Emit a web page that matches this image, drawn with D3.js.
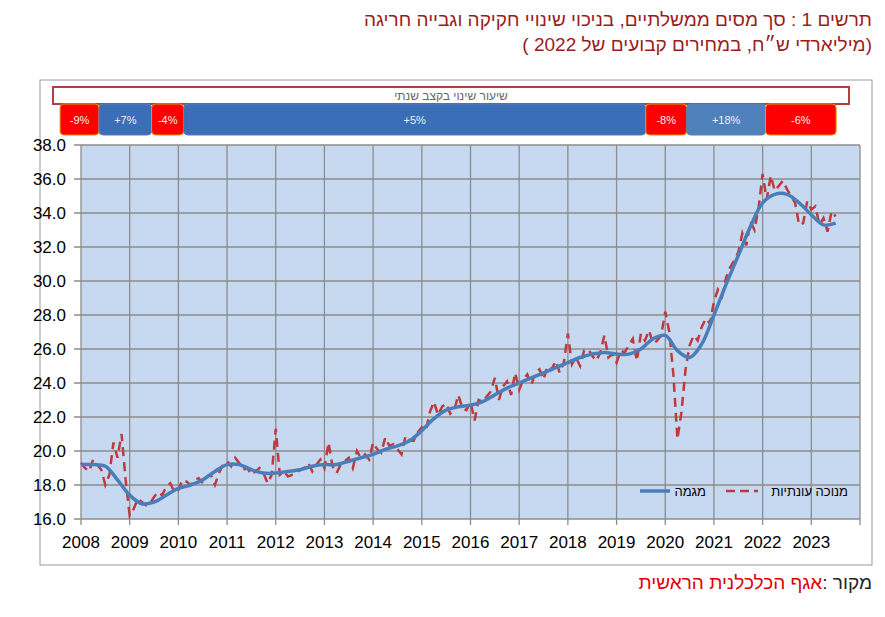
<!DOCTYPE html>
<html><head><meta charset="utf-8">
<script src="https://cdn.jsdelivr.net/npm/d3@7"></script>
<style>body{margin:0;background:#fff;font-family:"Liberation Sans",Arial,sans-serif}</style>
</head><body><svg id="c" width="885" height="617"></svg>
<script>
// trend (quarterly points)
var trendYears = [2008,2008.25,2008.5,2008.75,2009,2009.25,2009.5,2009.75,2010,2010.25,2010.5,2010.75,2011,2011.25,2011.5,2011.75,2012,2012.25,2012.5,2012.75,2013,2013.25,2013.5,2013.75,2014,2014.25,2014.5,2014.75,2015,2015.25,2015.5,2015.75,2016,2016.25,2016.5,2016.75,2017,2017.25,2017.5,2017.75,2018,2018.25,2018.5,2018.75,2019,2019.25,2019.5,2019.75,2020,2020.25,2020.5,2020.75,2021,2021.25,2021.5,2021.75,2022,2022.25,2022.5,2022.75,2023,2023.25,2023.5];
var trendValues = [19.2,19.2,19.1,18.3,17.4,16.9,17.0,17.4,17.8,18.0,18.3,18.8,19.2,19.2,18.9,18.7,18.7,18.8,18.9,19.1,19.2,19.2,19.4,19.6,19.8,20.1,20.3,20.6,21.2,21.9,22.4,22.6,22.7,22.9,23.3,23.7,24.0,24.3,24.6,24.9,25.2,25.5,25.7,25.8,25.7,25.7,26.0,26.6,26.8,25.9,25.5,26.3,28.0,29.8,31.5,33.2,34.6,35.1,35.1,34.6,33.9,33.3,33.4];
// seasonally adjusted, monthly from Jan 2008
var saValues = [
19.3,19.0,18.8,19.5,19.2,18.9,18.0,18.6,20.5,19.6,21.0,18.3,
16.2,16.6,17.2,17.0,16.8,16.9,17.3,17.6,17.4,17.9,18.1,17.6,
17.7,18.3,18.2,18.0,18.3,18.4,18.1,18.5,18.6,18.0,18.7,19.2,
19.4,19.1,19.6,19.3,18.9,19.0,18.6,18.8,19.0,18.7,18.1,18.6,
21.3,18.6,18.8,18.5,18.6,18.7,18.9,19.0,19.3,18.8,19.2,19.5,
19.0,20.5,19.1,18.7,19.2,19.4,19.6,19.0,20.0,19.6,19.8,19.5,
20.5,20.1,19.9,20.8,20.3,20.4,20.1,19.8,20.9,20.6,20.6,21.1,
21.4,21.2,22.3,22.9,22.1,22.6,22.8,22.2,22.4,23.3,22.5,22.4,
22.9,21.8,23.0,22.9,23.2,23.5,24.3,23.0,23.8,24.1,23.3,24.6,
23.6,24.2,24.5,23.9,24.6,24.8,24.2,25.0,24.8,25.3,24.6,25.2,
26.9,25.1,25.5,25.0,25.9,26.0,25.6,25.3,25.8,26.8,25.5,25.7,
25.2,25.9,25.8,26.2,26.6,25.3,26.9,26.5,27.1,26.3,26.5,26.8,
28.2,27.0,24.5,20.7,22.3,24.8,26.2,26.8,26.5,27.3,27.8,27.5,
28.8,29.5,29.1,30.2,30.8,31.2,31.7,32.8,32.1,33.5,33.0,34.3,
36.3,34.8,36.2,35.3,35.6,35.9,35.4,35.0,34.6,33.3,33.4,34.7,
34.2,34.4,33.3,33.7,32.9,34.1,33.8];
// annual change boxes
var segLabels = ["-9%","+7%","-4%","+5%","-8%","+18%","-6%"];
var segStart = [2007.57,2008.37,2009.45,2010.11,2019.6,2020.44,2022.06];
var segEnd = [2008.37,2009.45,2010.11,2019.6,2020.44,2022.06,2023.51];
var yTicks = [16,18,20,22,24,26,28,30,32,34,36,38];
var xTicks = d3.range(2008,2024);

var svg = d3.select("#c");
var x = d3.scaleLinear().domain([2008,2024]).range([81,860]);
var y = d3.scaleLinear().domain([16,38]).range([519,145]);
var red = "#b22222";

svg.append("text").attr("x",872).attr("y",26).attr("direction","rtl").attr("text-anchor","start")
  .attr("font-size",19).attr("fill","#9b1c1c").text("תרשים 1 : סך מסים ממשלתיים, בניכוי שינויי חקיקה וגבייה חריגה");
svg.append("text").attr("x",872).attr("y",51).attr("direction","rtl").attr("text-anchor","start")
  .attr("font-size",19).attr("fill","#9b1c1c").text("(מיליארדי ש״ח, במחירים קבועים של 2022 )");

svg.append("rect").attr("x",40).attr("y",80).attr("width",832).attr("height",485)
  .attr("fill","none").attr("stroke","#999");

svg.append("rect").attr("x",x.range()[0]).attr("y",y(38)).attr("width",x(2024)-x(2008)).attr("height",y(16)-y(38))
  .attr("fill","#c6d9f0");
svg.append("g").selectAll("line").data(yTicks).join("line")
  .attr("x1",74).attr("x2",860).attr("y1",y).attr("y2",y).attr("stroke","#8c8c8c").attr("stroke-width",1.3);
svg.append("g").selectAll("line").data(xTicks.concat([2024])).join("line")
  .attr("x1",x).attr("x2",x).attr("y1",y(38)).attr("y2",y(16)+6).attr("stroke","#8c8c8c").attr("stroke-width",1.3);
svg.append("g").selectAll("text").data(yTicks).join("text")
  .attr("x",66).attr("y",function(d){return y(d)+6;}).attr("text-anchor","end").attr("font-size",17)
  .text(function(d){return d.toFixed(1);});
svg.append("g").selectAll("text").data(xTicks).join("text")
  .attr("x",x).attr("y",548).attr("text-anchor","middle").attr("font-size",17).text(function(d){return d;});

// header + segments
svg.append("rect").attr("x",53).attr("y",87).attr("width",796).attr("height",17)
  .attr("fill","#fff").attr("stroke","#b04040").attr("stroke-width",2);
svg.append("text").attr("x",451).attr("y",100).attr("text-anchor","middle").attr("font-size",12)
  .attr("fill","#666").text("שיעור שינוי בקצב שנתי");
var segs = svg.append("g").selectAll("g").data(segLabels).join("g");
segs.append("rect")
  .attr("x",function(d,i){return x(segStart[i]);}).attr("y",104)
  .attr("width",function(d,i){return x(segEnd[i])-x(segStart[i]);}).attr("height",31).attr("rx",4)
  .attr("fill",function(d){return d[0]=="-" ? "#ff0000" : (d=="+18%" ? "#4f81bd" : "#3a6fb8");})
  .attr("stroke",function(d){return d[0]=="-" ? "#e0a000" : "#5a80b0";});
segs.append("text")
  .attr("x",function(d,i){return (x(segStart[i])+x(segEnd[i]))/2;}).attr("y",124)
  .attr("text-anchor","middle").attr("font-size",11).attr("fill","#eee").text(function(d){return d;});

var months = saValues.map(function(v,i){return 2008+i/12;});
svg.append("path").datum(saValues)
  .attr("d",d3.line().x(function(d,i){return x(months[i]);}).y(function(d){return y(d);}))
  .attr("fill","none").attr("stroke","#c0393b").attr("stroke-width",2.5).attr("stroke-dasharray","9,6");
svg.append("path").datum(trendValues)
  .attr("d",d3.line().x(function(d,i){return x(trendYears[i]);}).y(function(d){return y(d);}).curve(d3.curveCatmullRom))
  .attr("fill","none").attr("stroke","#4a7ebb").attr("stroke-width",3.5);

// legend
var lg = svg.append("g");
lg.append("line").attr("x1",640).attr("x2",670).attr("y1",491).attr("y2",491).attr("stroke","#4a7ebb").attr("stroke-width",3.5);
lg.append("text").attr("x",706).attr("y",496).attr("text-anchor","end").attr("font-size",13).text("מגמה");
lg.append("line").attr("x1",726).attr("x2",758).attr("y1",491).attr("y2",491).attr("stroke","#c0393b").attr("stroke-width",2.5).attr("stroke-dasharray","9,5");
lg.append("text").attr("x",848).attr("y",496).attr("text-anchor","end").attr("font-size",13).text("מנוכה עונתיות");

// source
var src = svg.append("text").attr("x",872).attr("y",589).attr("direction","rtl").attr("text-anchor","start").attr("font-size",19);
src.append("tspan").attr("fill","#222").text("מקור :");
src.append("tspan").attr("fill","#e00000").text("אגף הכלכלנית הראשית");
</script></body></html>
